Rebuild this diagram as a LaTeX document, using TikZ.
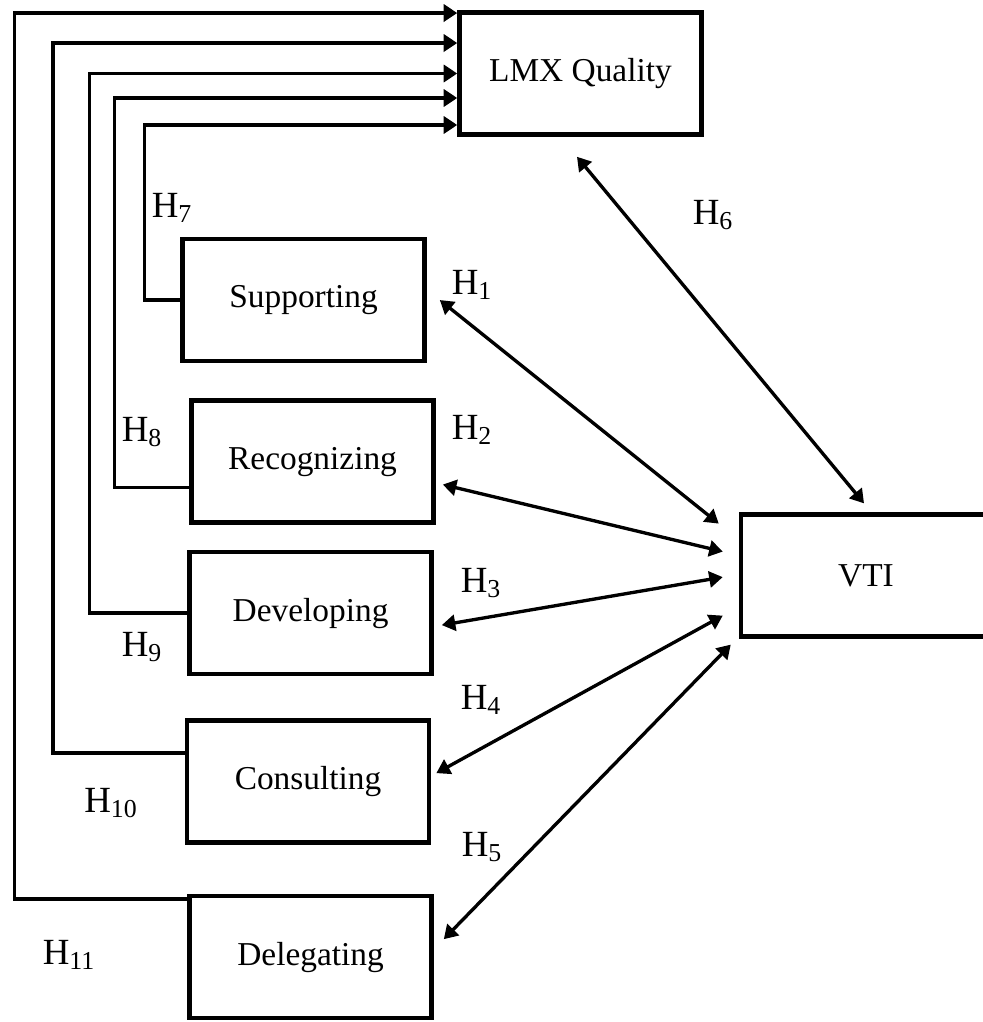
\documentclass[tikz,border=0pt]{standalone}
\usepackage{fontspec}
\setmainfont{Liberation Serif}
\usepackage{tikz}
\usetikzlibrary{positioning,calc,arrows.meta}

\begin{document}
\begin{tikzpicture}[x=0.02cm, y=-0.02cm,
		box/.style={draw, line width=2.6pt, minimum width=4.84cm, minimum height=2.44cm,
			inner sep=0pt, font=\fontsize{19}{22}\selectfont},
		hyp/.style={inner sep=0pt, font=\fontsize{21}{24}\selectfont},
		feed/.style={line width=2pt, -{Triangle[length=0.27cm,width=0.34cm]}},
		both/.style={line width=1.9pt, {Triangle[length=0.27cm,width=0.32cm]}-{Triangle[length=0.27cm,width=0.32cm]}}]
	\useasboundingbox (0,0) rectangle (983,1022);

	% kotak-kotak
	\node (lmx) [box] at (580.5,73.5) {LMX Quality};                 % acuan di atas
	\node (supp) [box, below=2cm of lmx, xshift=-5.54cm] {Supporting};
	\node (rec) [box, below=0.7cm of supp, xshift=0.18cm] {Recognizing};
	\node (dev) [box, below=0.5cm of rec, xshift=-0.04cm] {Developing};
	\node (con) [box, below=0.84cm of dev, xshift=-0.05cm] {Consulting};
	\node (del) [box, below=0.98cm of con, xshift=0.05cm] {Delegating};
	\node (vti) [box, minimum width=5cm, right=6.1cm of dev, yshift=0.75cm] {VTI}; % di kanan, terpotong

	% label hipotesis
	\node (h1) [hyp] at (472,285) {H\textsubscript{1}};
	\node (h2) [hyp] at (472,430) {H\textsubscript{2}};
	\node (h3) [hyp] at (481,583) {H\textsubscript{3}};
	\node (h4) [hyp] at (481,700) {H\textsubscript{4}};
	\node (h5) [hyp] at (482,847) {H\textsubscript{5}};
	\node (h6) [hyp] at (713,215) {H\textsubscript{6}};
	\node (h7) [hyp] at (172,208) {H\textsubscript{7}};
	\node (h8) [hyp] at (142,432) {H\textsubscript{8}};
	\node (h9) [hyp] at (142,647) {H\textsubscript{9}};
	\node (h10) [hyp] at (111,803) {H\textsubscript{10}};
	\node (h11) [hyp] at (69,955) {H\textsubscript{11}};

	% garis ke LMX Quality
	\draw [feed] (supp.west) -- ++(-36,0) |- ([yshift=-1.03cm]lmx.west);
	\draw [feed] ([yshift=-0.52cm]rec.west) -- ++(-75,0) |- ([yshift=-0.49cm]lmx.west);
	\draw [feed] (dev.west) -- ++(-98,0) |- (lmx.west);
	\draw [feed] ([yshift=0.57cm]con.west) -- ++(-132,0) |- ([yshift=0.61cm]lmx.west);
	\draw [feed] ([yshift=1.16cm]del.west) -- ++(-173,0) |- ([yshift=1.21cm]lmx.west);

	% panah dua arah ke VTI
	\draw [both] ($(supp.east)+(13,0)$) -- ($(vti.west)+(-20,-52)$);
	\draw [both] ($(rec.east)+(7,23)$) -- ($(vti.west)+(-16,-24)$);
	\draw [both] ($(dev.east)+(8,12)$) -- ($(vti.west)+(-16,1.5)$);
	\draw [both] ($(con.east)+(5,-8.5)$) -- ($(vti.west)+(-16,40)$);
	\draw [both] ($(del.east)+(10,-18)$) -- ($(vti.west)+(-8,69)$);
	\draw [both] ($(lmx.south)+(-3.5,20)$) -- ($(vti.north)+(-2,-9)$);
\end{tikzpicture}
\end{document}
